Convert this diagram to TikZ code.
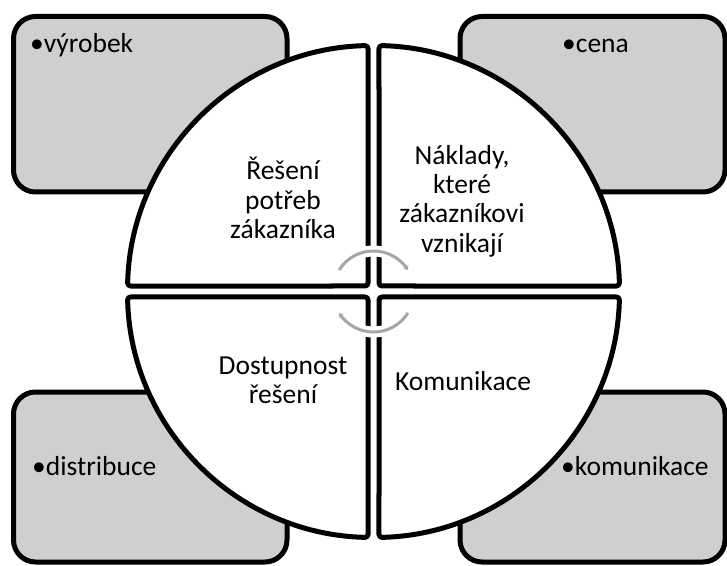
\documentclass[tikz,border=0pt]{standalone}
\usepackage{fontspec}
\setmainfont{Carlito}
\usetikzlibrary{calc,arrows.meta}

\definecolor{boxgray}{RGB}{207,207,207}
\definecolor{cyclegray}{RGB}{166,166,166}

\tikzset{
  cornerbox/.style={draw=black, line width=5pt, fill=boxgray, rounded corners=22pt},
  quarter/.style={draw=black, line width=5pt, fill=white, rounded corners=3pt, line join=round},
  quartertext/.style={inner sep=0pt, align=center, font=\fontsize{27.5}{29.3}\selectfont},
  boxtext/.style={inner sep=0pt, font=\fontsize{27.5}{29.3}\selectfont},
  cyclecase/.style={draw=white, line width=11pt},
  cyclearc/.style={draw=cyclegray, line width=3pt, -{Stealth[length=4pt,width=6pt]}},
}

\begin{document}
\begin{tikzpicture}[x=1pt,y=1pt]
  \useasboundingbox (0,0) rectangle (727,565);

  % corner boxes
  \draw[cornerbox] (13.5,373) rectangle (287,548.5);
  \draw[cornerbox] (460,373) rectangle (725,548.5);
  \draw[cornerbox] (13.5,3) rectangle (287,173);
  \draw[cornerbox] (460,3) rectangle (725,173);

  % centre of the divided circle
  \coordinate (c) at (373.5,273.5);

  % four quarters of the circle, separated by a narrow cross-shaped gap
  \draw[quarter] ($(c)+(-5.5,5.5)$) -- ($(c)+(91.28:246)$)
    arc[start angle=91.28, end angle=178.72, radius=246] -- cycle;
  \draw[quarter] ($(c)+(5.5,5.5)$) -- ($(c)+(1.28:246)$)
    arc[start angle=1.28, end angle=88.72, radius=246] -- cycle;
  \draw[quarter] ($(c)+(-5.5,-5.5)$) -- ($(c)+(181.28:246)$)
    arc[start angle=181.28, end angle=268.72, radius=246] -- cycle;
  \draw[quarter] ($(c)+(5.5,-5.5)$) -- ($(c)+(271.28:246)$)
    arc[start angle=271.28, end angle=358.72, radius=246] -- cycle;

  % cycle arrows in the middle
  \coordinate (ua) at ($(c)+(148:40.5)$);
  \coordinate (la) at ($(c)+(-32:40.5)$);
  \draw[cyclecase] (ua) arc[start angle=148, end angle=32, radius=40.5];
  \draw[cyclecase] (la) arc[start angle=-32, end angle=-148, radius=40.5];
  \draw[cyclearc] (ua) arc[start angle=148, end angle=32, radius=40.5];
  \draw[cyclearc] (la) arc[start angle=-32, end angle=-148, radius=40.5];

  % texts in the quarters
  \node[quartertext] (q1) at (283,367) {Řešení\\potřeb\\zákazníka};
  \node[quartertext] (q2) at (462,364) {Náklady,\\které\\zákazníkovi\\vznikají};
  \node[quartertext] (q3) at (283,185) {Dostupnost\\řešení};
  \node[quartertext, anchor=base] (q4) at (463,175) {Komunikace};

  % texts in the corner boxes
  \node[boxtext, anchor=base west] (b1) at (30,512) {•výrobek};
  \node[boxtext, anchor=base west] (b2) at (562,512) {•cena};
  \node[boxtext, anchor=base west] (b3) at (32,90) {•distribuce};
  \node[boxtext, anchor=base west] (b4) at (561,90) {•komunikace};
\end{tikzpicture}
\end{document}
